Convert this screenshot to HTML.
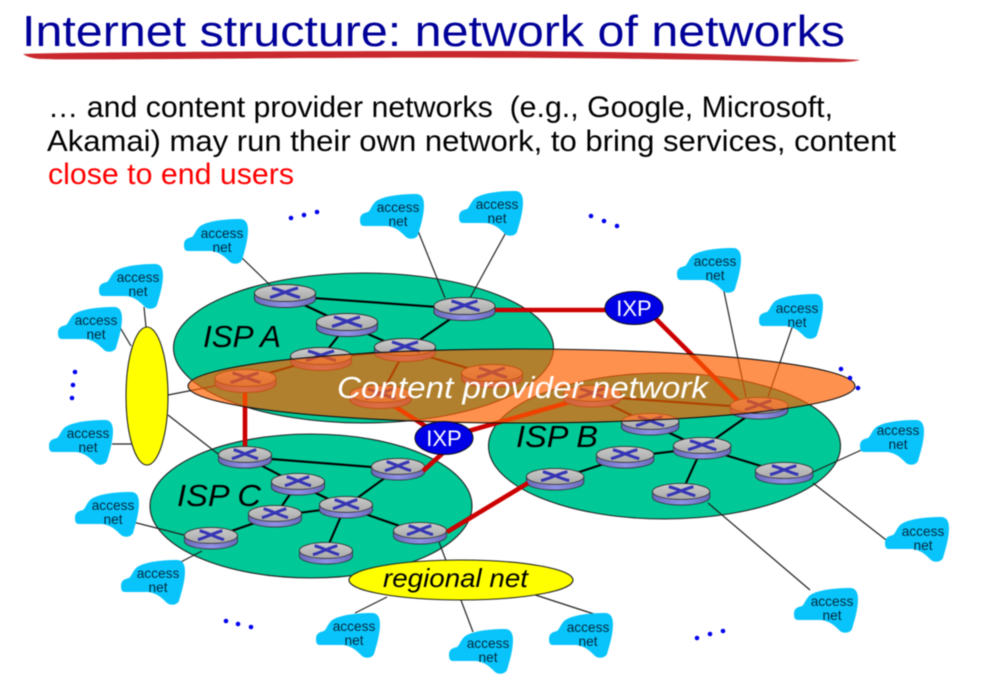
<!DOCTYPE html>
<html><head><meta charset="utf-8"><style>
html,body{margin:0;padding:0;background:#fff;width:983px;height:681px;overflow:hidden}
svg{display:block;filter:blur(.4px)}
text{font-family:"Liberation Sans",sans-serif}
.a{font-size:13.7px;text-anchor:middle;fill:#012a3e}
.i{font-style:italic;fill:#000}
.t{stroke:#222;stroke-width:1.2;fill:none}
.k{stroke:#000;stroke-width:2.1;fill:none}
.r{stroke:#cc0000;stroke-width:4.6;fill:none}
</style></head><body>
<svg width="983" height="681" viewBox="0 0 983 681" xmlns="http://www.w3.org/2000/svg">
<defs>
<linearGradient id="tp" x1="0" y1="0" x2="0" y2="1"><stop offset="0" stop-color="#cccccc"/><stop offset="1" stop-color="#a8a8a8"/></linearGradient>
<linearGradient id="sd" x1="0" y1="0" x2="1" y2="0"><stop offset="0" stop-color="#6a6abb"/><stop offset=".5" stop-color="#9090e6"/><stop offset="1" stop-color="#6a6abb"/></linearGradient>
<g id="r">
<path d="M.5,9V15A30.5,8.5 0 0 0 61.5,15V9Z" fill="url(#sd)" stroke="#333" stroke-width=".9"/>
<ellipse cx="31" cy="9" rx="30.5" ry="8.5" fill="url(#tp)" stroke="#333" stroke-width=".9"/>
<path d="M18,4C27,6 36,11 46,13.500M44,4C35,6 26,11 16,13.500" stroke="#3535b5" stroke-width="3.200" fill="none"/>
</g>
<path id="c" d="M0,26C0,20 4,19 8,18C11,16 12,9 18,6C28,1 45,0 56,0C62,0 64,5 64,11C64,22 60,34 58,41C56,45 50,46 46,43C41,38 36,33 27,32L4,32C1,32 0,30 0,26Z" fill="#08c4fb"/>
</defs>

<text x="22" y="46" font-size="44" fill="#000099" textLength="823" lengthAdjust="spacingAndGlyphs">Internet structure: network of networks</text>
<path d="M23,54C60,52 300,51 500,51C650,52 780,55 860,60C850,63 830,62 800,62C650,58 500,57 300,58C180,59 60,60 40,59C30,58 26,56 23,54Z" fill="#c9292e"/>
<text x="48" y="117" font-size="30" fill="#000" textLength="785" lengthAdjust="spacingAndGlyphs">… and content provider networks&#160;&#160;(e.g., Google, Microsoft,</text>
<text x="47" y="151" font-size="30" fill="#000" textLength="849" lengthAdjust="spacingAndGlyphs">Akamai) may run their own network, to bring services, content</text>
<text x="48" y="184" font-size="30" fill="#ff0000" textLength="246" lengthAdjust="spacingAndGlyphs">close to end users</text>

<g stroke="#222" stroke-width="1.1">
<ellipse cx="363.5" cy="348" rx="190" ry="75" fill="#00c896"/>
<ellipse cx="664.5" cy="446" rx="176" ry="73" fill="#00c896"/>
<ellipse cx="311" cy="506" rx="161" ry="72" fill="#00c896"/>
</g>

<g class="t">
<path d="M240,256L270,285M416,226L445,298M510,225L470,298M722,282L746,397M794,322L768,397M868,447L813,472M813,483L890,543M708,503L810,590"/>
<path d="M118,324L131,346M144,307L146,327M112,444L132,444M168,395L245,380M168,415L222,457M125,520L184,535M175,565L202,551M439,542L473,632M355,613L387,597M520,590L597,615"/>
</g>
<g class="k">
<path d="M285,296L465,309M285,296L347,325M347,325L405,350M347,325L321,358M465,309L405,350M405,350L321,358M321,358L245,380M405,350L380,397M405,350L492,375"/>
<path d="M555,480L625,457M625,457L702,448M702,448L650,424M650,424L591,396M591,396L759,408M702,448L759,408M702,448L784,473M702,448L681,494"/>
<path d="M245,457L397,469M245,457L297,484M297,484L345,507M297,484L275,516M275,516L345,507M275,516L211,538M345,507L397,469M345,507L325,553M345,507L420,533"/>
</g>

<g class="r">
<path d="M465,310H610M655,318L745,408M245,385V450M380,397L444,438M591,396L444,438"/>
</g>

<!-- ISP A routers -->
<use href="#r" x="254" y="284"/><use href="#r" x="316" y="313"/><use href="#r" x="433.500" y="297"/><use href="#r" x="374" y="338"/><use href="#r" x="290" y="347"/><use href="#r" x="214.500" y="369"/><use href="#r" x="349.500" y="385"/><use href="#r" x="461" y="364"/>
<!-- ISP B routers -->
<use href="#r" transform="translate(526,468) scale(.94)"/><use href="#r" transform="translate(596,446) scale(.94)"/><use href="#r" transform="translate(673,437) scale(.94)"/><use href="#r" transform="translate(621,413) scale(.94)"/><use href="#r" transform="translate(563,385) scale(.94)"/><use href="#r" transform="translate(730,397) scale(.94)"/><use href="#r" transform="translate(755,462) scale(.94)"/><use href="#r" transform="translate(652,483) scale(.94)"/>
<!-- ISP C routers -->
<use href="#r" transform="translate(218,446) scale(.87,.94)"/><use href="#r" transform="translate(371,458) scale(.87,.94)"/><use href="#r" transform="translate(271,473) scale(.87,.94)"/><use href="#r" transform="translate(319,496) scale(.87,.94)"/><use href="#r" transform="translate(248,505) scale(.87,.94)"/><use href="#r" transform="translate(184,527) scale(.87,.94)"/><use href="#r" transform="translate(299,542) scale(.87,.94)"/><use href="#r" transform="translate(393,522) scale(.87,.94)"/>

<g class="r"><path d="M423,471L444,452M447,532L528,483"/></g>

<ellipse cx="147" cy="396" rx="21" ry="69" fill="#ffff00" stroke="#222" stroke-width="1.1"/>
<ellipse cx="461" cy="580" rx="112" ry="20" fill="#ffff00" stroke="#222" stroke-width="1.1"/>

<ellipse cx="521.500" cy="386" rx="333.500" ry="37" fill="#ff6000" fill-opacity=".69" stroke="#111" stroke-width="1.1"/>

<ellipse cx="634" cy="308" rx="29" ry="16.500" fill="#0000e6" stroke="#111"/>
<ellipse cx="444" cy="438" rx="29" ry="16.500" fill="#0000e6" stroke="#111"/>
<text x="634" y="316" font-size="22" fill="#fff" text-anchor="middle">IXP</text>
<text x="444" y="446" font-size="22" fill="#fff" text-anchor="middle">IXP</text>

<text class="i" x="203" y="347" font-size="30.500" textLength="78" lengthAdjust="spacingAndGlyphs">ISP A</text>
<text class="i" x="516" y="447" font-size="30.500" textLength="82" lengthAdjust="spacingAndGlyphs">ISP B</text>
<text class="i" x="177" y="506" font-size="30.500" textLength="84" lengthAdjust="spacingAndGlyphs">ISP C</text>
<text class="i" x="337" y="398" font-size="31" style="fill:#fff" textLength="371" lengthAdjust="spacingAndGlyphs">Content provider network</text>
<text class="i" x="383" y="587" font-size="26" textLength="145" lengthAdjust="spacingAndGlyphs">regional net</text>

<g>
<use href="#c" x="184" y="219"/><use href="#c" x="99" y="264"/><use href="#c" x="58" y="307"/><use href="#c" x="49" y="420"/><use href="#c" x="75" y="492"/><use href="#c" x="121" y="560"/><use href="#c" x="316" y="613"/><use href="#c" x="449" y="629"/><use href="#c" x="549" y="613"/><use href="#c" x="794" y="588"/><use href="#c" x="885" y="517"/><use href="#c" x="860" y="420"/><use href="#c" x="759" y="294"/><use href="#c" x="677" y="248"/><use href="#c" x="459" y="191"/><use href="#c" x="360" y="194"/>
</g>
<g class="a">
<text x="222" y="238">access</text><text x="222" y="252">net</text>
<text x="138" y="282">access</text><text x="138" y="296">net</text>
<text x="96" y="325">access</text><text x="96" y="339">net</text>
<text x="88" y="438">access</text><text x="88" y="452">net</text>
<text x="113" y="510">access</text><text x="113" y="524">net</text>
<text x="158" y="578">access</text><text x="158" y="592">net</text>
<text x="354" y="631">access</text><text x="354" y="645">net</text>
<text x="488" y="648">access</text><text x="488" y="662">net</text>
<text x="588" y="632">access</text><text x="588" y="646">net</text>
<text x="832" y="606">access</text><text x="832" y="620">net</text>
<text x="923" y="536">access</text><text x="923" y="550">net</text>
<text x="898" y="435">access</text><text x="898" y="449">net</text>
<text x="797" y="313">access</text><text x="797" y="327">net</text>
<text x="715" y="266">access</text><text x="715" y="280">net</text>
<text x="497" y="209">access</text><text x="497" y="223">net</text>
<text x="398" y="212">access</text><text x="398" y="226">net</text>
</g>

<g fill="#0000ee">
<circle cx="291" cy="218" r="2.300"/><circle cx="304" cy="215" r="2.300"/><circle cx="317" cy="212" r="2.300"/>
<circle cx="591" cy="216" r="2.300"/><circle cx="604" cy="221" r="2.300"/><circle cx="617" cy="226" r="2.300"/>
<circle cx="75" cy="372" r="2.300"/><circle cx="73" cy="385" r="2.300"/><circle cx="72" cy="398" r="2.300"/>
<circle cx="841" cy="369" r="2.300"/><circle cx="850" cy="378" r="2.300"/><circle cx="858" cy="388" r="2.300"/>
<circle cx="226" cy="621" r="2.300"/><circle cx="238" cy="624" r="2.300"/><circle cx="251" cy="627" r="2.300"/>
<circle cx="697" cy="638" r="2.300"/><circle cx="710" cy="634" r="2.300"/><circle cx="723" cy="631" r="2.300"/>
</g>
</svg>
</body></html>
